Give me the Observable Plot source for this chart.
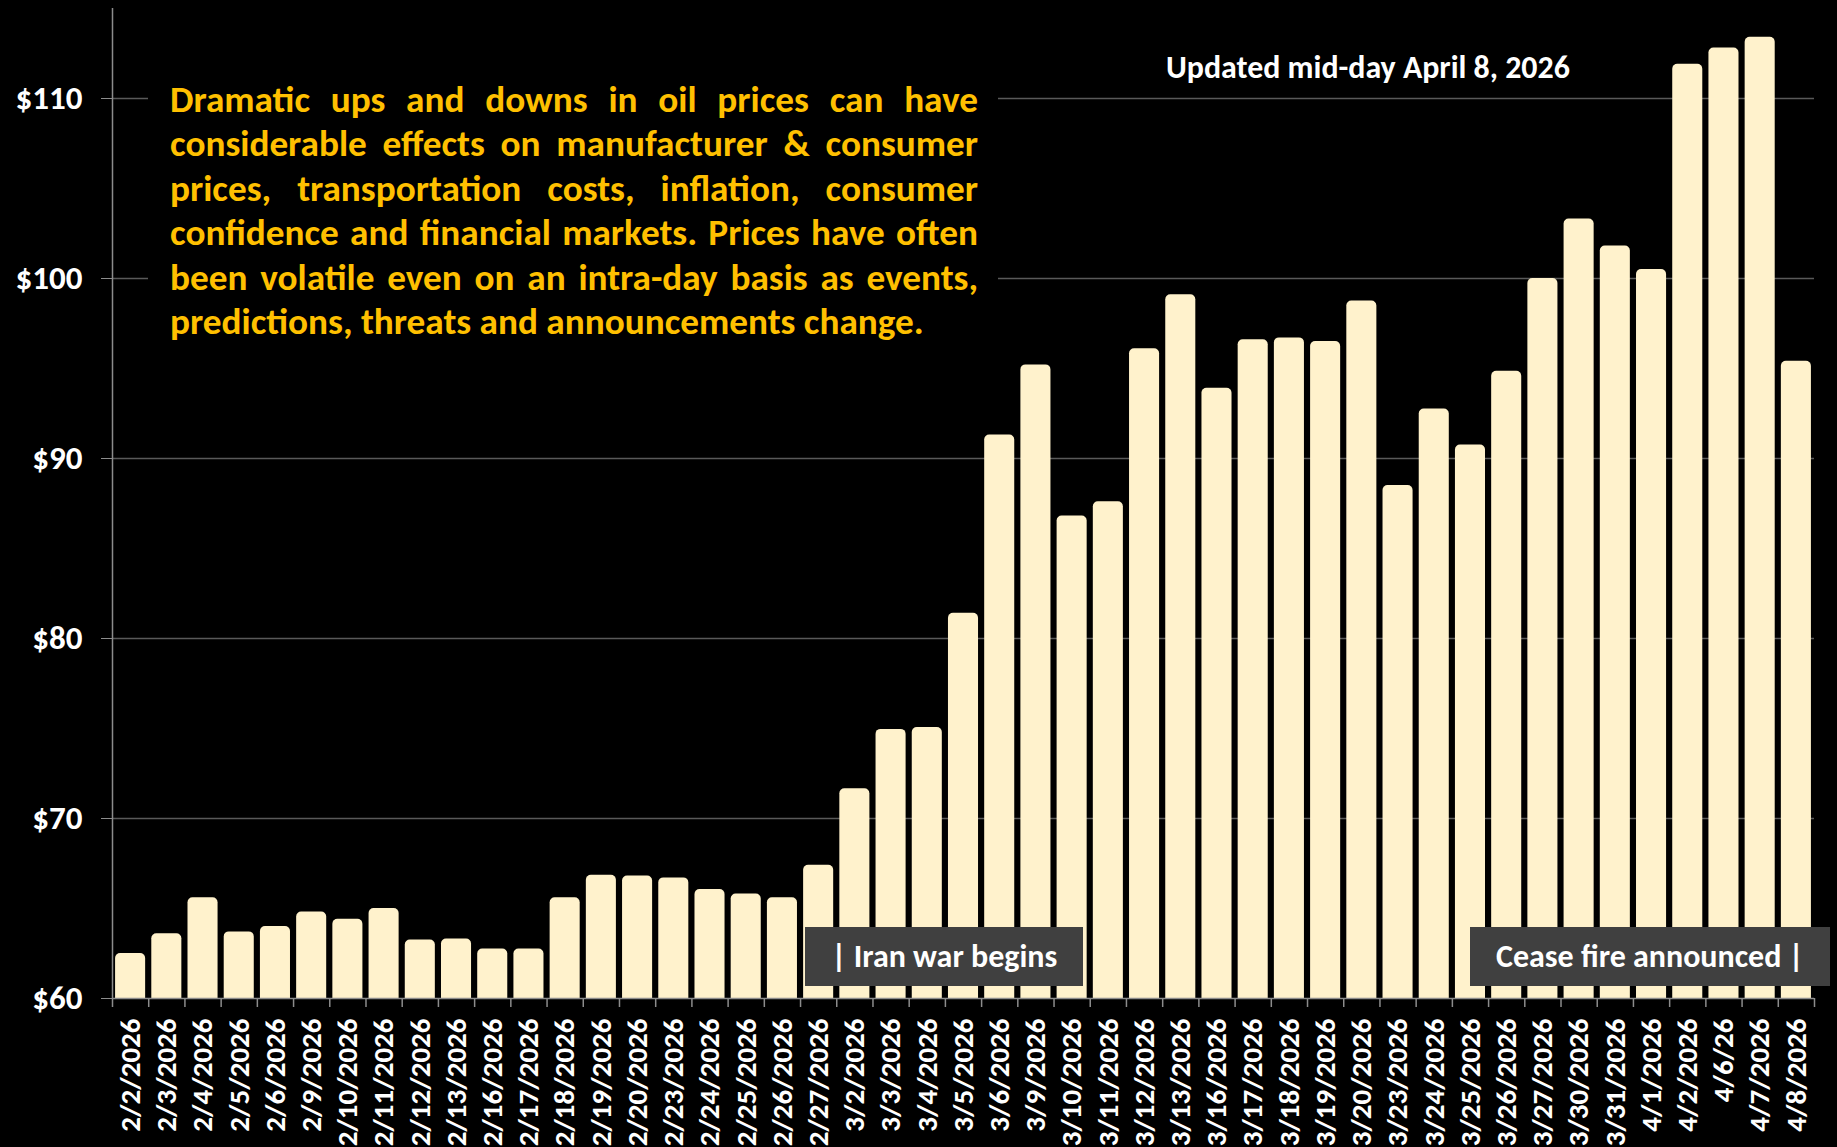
<!DOCTYPE html>
<html><head><meta charset="utf-8">
<script src="https://cdn.jsdelivr.net/npm/d3@7"></script>
<script src="https://cdn.jsdelivr.net/npm/@observablehq/plot@0.6"></script>
<style>
html,body{margin:0;padding:0;background:#000;}
#wrap{position:relative;width:1837px;height:1147px;overflow:hidden;background:#000;}
.f{font-family:Calibri, Carlito, Lato, sans-serif;font-weight:700;}
#para{position:absolute;background:#000;color:#FFC000;}
#para div{text-align:justify;text-align-last:justify;}
#para div.last{text-align:left;text-align-last:left;}
#upd{position:absolute;color:#fff;white-space:nowrap;}
.box{position:absolute;background:#404040;color:#fff;white-space:nowrap;text-align:center;}
</style></head>
<body><div id="wrap"></div>
<script>
const dates = ["2/2/2026","2/3/2026","2/4/2026","2/5/2026","2/6/2026","2/9/2026","2/10/2026","2/11/2026","2/12/2026","2/13/2026","2/16/2026","2/17/2026","2/18/2026","2/19/2026","2/20/2026","2/23/2026","2/24/2026","2/25/2026","2/26/2026","2/27/2026","3/2/2026","3/3/2026","3/4/2026","3/5/2026","3/6/2026","3/9/2026","3/10/2026","3/11/2026","3/12/2026","3/13/2026","3/16/2026","3/17/2026","3/18/2026","3/19/2026","3/20/2026","3/23/2026","3/24/2026","3/25/2026","3/26/2026","3/27/2026","3/30/2026","3/31/2026","4/1/2026","4/2/2026","4/6/26","4/7/2026","4/8/2026"];
const prices = [62.5,63.6,65.6,63.7,64.0,64.8,64.4,65.0,63.25,63.3,62.75,62.75,65.6,66.85,66.8,66.7,66.05,65.8,65.6,67.4,71.65,74.95,75.05,81.4,91.3,95.2,86.8,87.6,96.1,99.1,93.9,96.6,96.7,96.5,98.75,88.5,92.75,90.75,94.85,100.0,103.3,101.8,100.5,111.9,112.8,113.4,95.4];
const yTicks = [60,70,80,90,100,110];
const paragraph = [
  "Dramatic ups and downs in oil prices can have",
  "considerable effects on manufacturer & consumer",
  "prices, transportation costs, inflation, consumer",
  "confidence and financial markets. Prices have often",
  "been volatile even on an intra-day basis as events,",
  "predictions, threats and announcements change."
];
const updatedText = "Updated mid-day April 8, 2026";
const events = [
  {date:"3/2/2026", text:"| Iran war begins", side:"start"},
  {date:"4/8/2026", text:"Cease fire announced |", side:"end"}
];

const data = dates.map((d,i)=>({date:d, price:prices[i]}));
const W=1837, H=1147, mL=112, mR=23, mT=8, mB=149;
const pi=0.17, po=pi/2;
const step=(W-mL-mR)/(dates.length-pi+2*po);
const font="Calibri, Carlito, Lato, sans-serif";
const axisCol="#8c8c8c";

const chart = Plot.plot({
  width:W, height:H, marginLeft:mL, marginRight:mR, marginTop:mT, marginBottom:mB,
  style:{background:"#000", color:"#fff", fontFamily:font, fontWeight:700, fontSize:"28px", overflow:"visible"},
  x:{domain:dates, paddingInner:pi, paddingOuter:po, round:false, label:null},
  y:{domain:[60,115], label:null},
  marks:[
    Plot.gridY({ticks:yTicks.filter(t=>t>60), stroke:"#595959", strokeOpacity:1, strokeWidth:1.3}),
    Plot.barY(data,{x:"date", y:"price", fill:"#FFF2CC", rx:5, clip:true}),
    Plot.ruleY([60],{stroke:axisCol, strokeWidth:1.5}),
    Plot.ruleX([dates[0]],{x:d=>d, y1:60, y2:115, dx:-step/2, stroke:axisCol, strokeWidth:1.5}),
    Plot.ruleX(dates,{x:d=>d, y1:60, y2:59.5, dx:-step/2, stroke:axisCol, strokeWidth:1.5}),
    Plot.ruleX([dates[dates.length-1]],{x:d=>d, y1:60, y2:59.5, dx:step/2, stroke:axisCol, strokeWidth:1.5}),
    Plot.axisY({ticks:yTicks, tickFormat:d=>"$"+d, tickSize:11, tickPadding:19, stroke:axisCol, color:"#fff", fill:"#fff", fontSize:33, fontWeight:700, label:null}),
    Plot.axisX({tickSize:0, tickRotate:-90, tickPadding:20, color:"#fff", fill:"#fff", fontSize:29, fontWeight:700, label:null})
  ]
});
const wrap=document.getElementById("wrap");
wrap.appendChild(chart);

const ctx=document.createElement("canvas").getContext("2d");
function fit(text,target,base=30){ctx.font=`700 ${base}px ${font}`;return base*target/ctx.measureText(text).width;}

// paragraph
let ps=fit(paragraph[5],754);
for(let i=0;i<5;i++) ps=Math.min(ps,fit(paragraph[i],806));
const para=document.createElement("div");
para.id="para"; para.className="f";
Object.assign(para.style,{left:"148px",top:"72px",width:"808px",padding:"6px 20px 14px 22px",fontSize:ps+"px",lineHeight:"44.4px"});
paragraph.forEach((t,i)=>{const d=document.createElement("div");d.textContent=t;if(i===paragraph.length-1)d.className="last";para.appendChild(d);});
wrap.appendChild(para);

// updated
const us=fit(updatedText,404);
const upd=document.createElement("div");
upd.id="upd"; upd.className="f"; upd.textContent=updatedText;
Object.assign(upd.style,{left:"1166px",top:(82-us*0.95)+"px",fontSize:us+"px",lineHeight:"1"});
wrap.appendChild(upd);

// event boxes
const sx=chart.scale("x"), sy=chart.scale("y");
const bstep=sx.step||step, bw=sx.bandwidth;
const boundary=c=>sx.apply(c)-(bstep-bw)/2;
const boxTop=sy.apply(60)-71;
events.forEach(e=>{
  const b=document.createElement("div");
  b.className="box f"; b.textContent=e.text;
  Object.assign(b.style,{top:boxTop+"px",height:"59px",lineHeight:"59px",fontSize:"32px",padding:"0 26px"});
  wrap.appendChild(b);
  const w=b.getBoundingClientRect().width;
  const x=boundary(e.date);
  if(e.side==="start") b.style.left=(x-31)+"px";
  else b.style.left=(x+52-w)+"px";
});
</script></body></html>
